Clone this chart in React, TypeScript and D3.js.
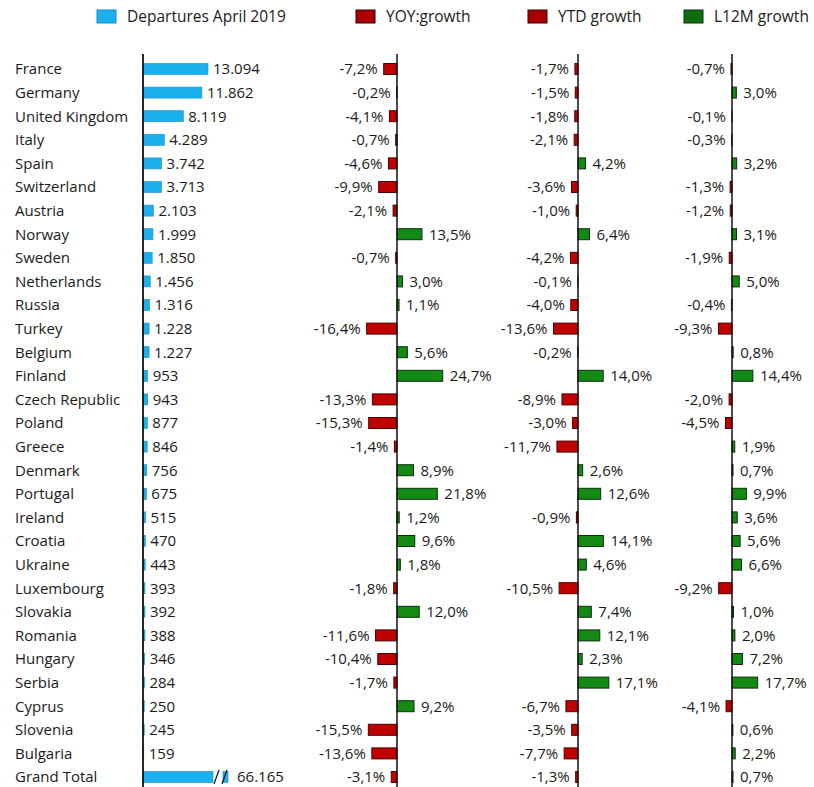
import React from "react";
import * as d3 from "d3";

const countries = ["France","Germany","United Kingdom","Italy","Spain","Switzerland","Austria","Norway","Sweden","Netherlands","Russia","Turkey","Belgium","Finland","Czech Republic","Poland","Greece","Denmark","Portugal","Ireland","Croatia","Ukraine","Luxembourg","Slovakia","Romania","Hungary","Serbia","Cyprus","Slovenia","Bulgaria","Grand Total"];
const departures = [13094,11862,8119,4289,3742,3713,2103,1999,1850,1456,1316,1228,1227,953,943,877,846,756,675,515,470,443,393,392,388,346,284,250,245,159,66165];
const yoy = [-7.2,-0.2,-4.1,-0.7,-4.6,-9.9,-2.1,13.5,-0.7,3.0,1.1,-16.4,5.6,24.7,-13.3,-15.3,-1.4,8.9,21.8,1.2,9.6,1.8,-1.8,12.0,-11.6,-10.4,-1.7,9.2,-15.5,-13.6,-3.1];
const ytd = [-1.7,-1.5,-1.8,-2.1,4.2,-3.6,-1.0,6.4,-4.2,-0.1,-4.0,-13.6,-0.2,14.0,-8.9,-3.0,-11.7,2.6,12.6,-0.9,14.1,4.6,-10.5,7.4,12.1,2.3,17.1,-6.7,-3.5,-7.7,-1.3];
const l12m = [-0.7,3.0,-0.1,-0.3,3.2,-1.3,-1.2,3.1,-1.9,5.0,-0.4,-9.3,0.8,14.4,-2.0,-4.5,1.9,0.7,9.9,3.6,5.6,6.6,-9.2,1.0,2.0,7.2,17.7,-4.1,0.6,2.2,0.7];
const legendLabels = ["Departures April 2019","YOY:growth","YTD growth","L12M growth"];

const W = 814, H = 787;
const FONT = "'Open Sans', sans-serif";
const FS = 15;
const TXT = "#1a1a1a";
const BLUE = "#1BB0EC", BLUE_S = "#1290c8";
const RED = "#C00000", RED_S = "#4a0000";
const GREEN = "#138A13", GREEN_S = "#0a300a";

const loc = d3.formatLocale({ decimal: ",", thousands: ".", grouping: [3], currency: ["", ""], minus: "-" });
const fmtInt = loc.format(",d");
const fmtPct = loc.format(".1f");

const y = d3.scaleBand<string>().domain(countries).range([57.2, 57.2 + 31 * 23.6]);
const barH = 11;

const xDep = d3.scaleLinear().domain([0, 13094]).range([143, 208]);
const breakVal = 14100;

const panels = [
  { data: yoy, x: d3.scaleLinear().domain([0, 10]).range([397, 415.5]) },
  { data: ytd, x: d3.scaleLinear().domain([0, 10]).range([578, 596]) },
  { data: l12m, x: d3.scaleLinear().domain([0, 10]).range([732, 746.5]) },
];

export default function App() {
  const cy = (c: string) => (y(c) as number) + y.bandwidth() / 2;
  return (
    <svg width={W} height={H} style={{ display: "block", position: "absolute", left: 0, top: 0, background: "#fff" }} fontFamily={FONT}>
      <rect x={0} y={0} width={W} height={H} fill="#fff" />
      {/* legend */}
      {[
        { x: 97, fill: BLUE, stroke: BLUE_S },
        { x: 356, fill: "#A80000", stroke: "#300" },
        { x: 528, fill: "#A80000", stroke: "#300" },
        { x: 684, fill: "#0E6E0E", stroke: "#031" },
      ].map((l, i) => (
        <g key={i}>
          <rect x={l.x} y={10} width={19} height={13} fill={l.fill} stroke={l.stroke} strokeWidth={1} />
          <text x={l.x + 30} y={16.5} dy="0.36em" fontSize={15.5} fill={TXT}>{legendLabels[i]}</text>
        </g>
      ))}

      {/* departures panel */}
      {countries.map((c, i) => {
        const v = departures[i];
        const yc = cy(c);
        if (v > breakVal) {
          const xb = xDep(breakVal);
          return (
            <g key={c}>
              <text x={15} y={yc} dy="0.36em" fontSize={FS} fill={TXT}>{c}</text>
              <rect x={143} y={yc - barH / 2} width={xb - 143} height={barH} fill={BLUE} stroke={BLUE_S} strokeWidth={0.6} />
              <rect x={xb + 10} y={yc - barH / 2} width={5} height={barH} fill={BLUE} stroke={BLUE_S} strokeWidth={0.6} />
              <line x1={xb + 1} y1={yc + 7} x2={xb + 6} y2={yc - 7} stroke="#111" strokeWidth={1.2} />
              <line x1={xb + 9} y1={yc + 7} x2={xb + 14} y2={yc - 7} stroke="#111" strokeWidth={1.2} />
              <text x={xb + 24} y={yc} dy="0.36em" fontSize={FS} fill={TXT}>{fmtInt(v)}</text>
            </g>
          );
        }
        return (
          <g key={c}>
            <text x={15} y={yc} dy="0.36em" fontSize={FS} fill={TXT}>{c}</text>
            <rect x={143} y={yc - barH / 2} width={xDep(v) - 143} height={barH} fill={BLUE} stroke={BLUE_S} strokeWidth={0.6} />
            <text x={xDep(v) + 5} y={yc} dy="0.36em" fontSize={FS} fill={TXT}>{fmtInt(v)}</text>
          </g>
        );
      })}
      <line x1={143} y1={54} x2={143} y2={H} stroke="#111" strokeWidth={1.8} />

      {/* growth panels */}
      {panels.map((p, pi) => (
        <g key={pi}>
          {countries.map((c, i) => {
            const v = p.data[i];
            const yc = cy(c);
            const x0 = p.x(0);
            const x1 = p.x(v);
            const pos = v >= 0;
            return (
              <g key={c}>
                <rect x={Math.min(x0, x1)} y={yc - barH / 2} width={Math.abs(x1 - x0)} height={barH}
                  fill={pos ? GREEN : RED} stroke={pos ? GREEN_S : RED_S} strokeWidth={1} />
                <text x={pos ? x1 + 7 : x1 - 6} y={yc} dy="0.36em" fontSize={FS} fill={TXT}
                  textAnchor={pos ? "start" : "end"}>{fmtPct(v) + "%"}</text>
              </g>
            );
          })}
          <line x1={p.x(0)} y1={54} x2={p.x(0)} y2={H} stroke="#111" strokeWidth={1.5} />
        </g>
      ))}
    </svg>
  );
}
